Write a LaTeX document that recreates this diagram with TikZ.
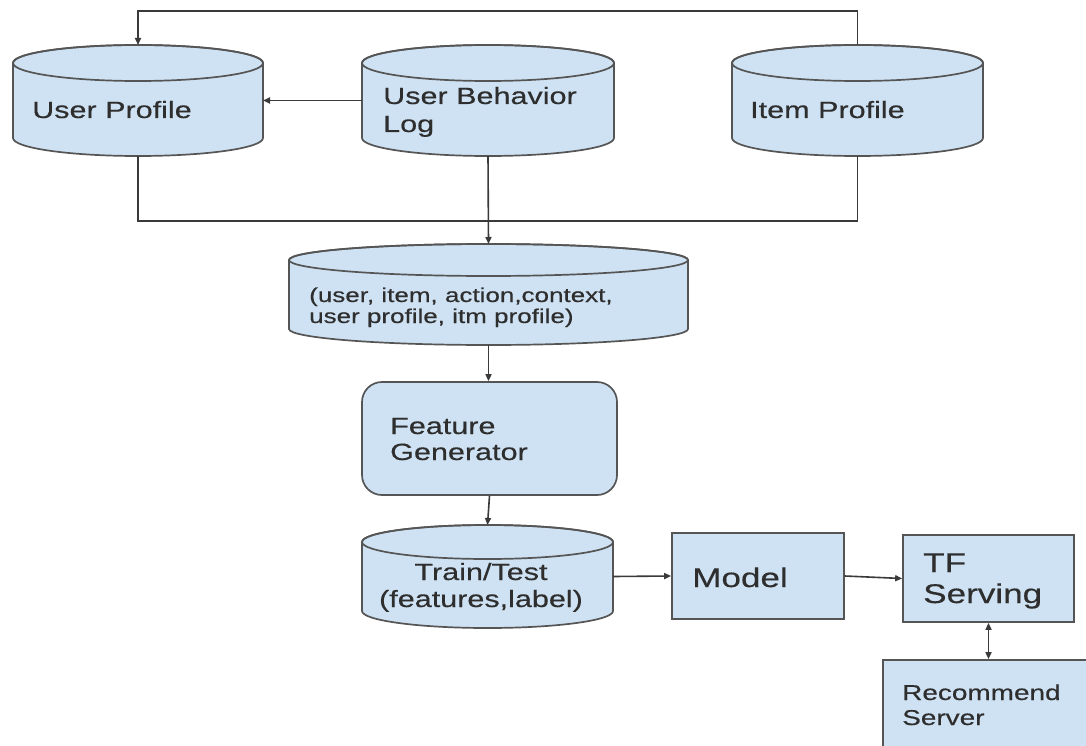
\documentclass[tikz,border=0pt]{standalone}
\usepackage{fontspec}
\setmainfont{Liberation Sans}[FakeStretch=1.3, FakeBold=0.4]
\usetikzlibrary{arrows.meta}

\definecolor{boxfill}{HTML}{CFE2F3}
\definecolor{boxedge}{HTML}{555555}
\definecolor{wirecol}{HTML}{3A3A3A}
\definecolor{ink}{HTML}{2E2E2E}

\tikzset{
  shapebox/.style={draw=boxedge, fill=boxfill, line width=1.7pt, inner sep=0pt},
  dbarea/.style={draw=none, inner sep=0pt, outer sep=0pt},
  wire/.style={draw=wirecol, line width=1.6pt},
  arr/.style={wire, -{Triangle[length=7pt,width=6pt]}},
  darr/.style={wire, {Triangle[length=7pt,width=6pt]}-{Triangle[length=7pt,width=6pt]}},
  lbl/.style={text=ink, inner sep=0pt, anchor=base west, font=\fontsize{23.5}{28}\selectfont},
}

% Database cylinder: name, left, top, right, bottom, rim half-height.
% Draws the drum and places an invisible node of the same extent for connectors.
\newcommand\dbstore[6]{%
  \pgfmathsetmacro\dbcx{(#2+#4)/2}%
  \pgfmathsetmacro\dbcy{(#3+#5)/2}%
  \pgfmathsetmacro\dbrx{(#4-#2)/2}%
  \pgfmathsetmacro\dbw{#4-#2}%
  \pgfmathsetmacro\dbh{#5-#3}%
  \filldraw[fill=boxfill, draw=boxedge, line width=1.7pt, line join=round]
    (#2,#3+#6) -- (#2,#5-#6)
    arc[start angle=180, end angle=0, x radius=\dbrx, y radius=#6]
    -- (#4,#3+#6)
    arc[start angle=0, end angle=-180, x radius=\dbrx, y radius=#6] -- cycle;
  \draw[draw=boxedge, line width=1.7pt] (\dbcx,#3+#6) ellipse [x radius=\dbrx, y radius=#6];
  \node[dbarea, minimum width=\dbw pt, minimum height=\dbh pt] (#1) at (\dbcx,\dbcy) {};
}

\begin{document}
\begin{tikzpicture}[x=1pt, y=-1pt]
  \useasboundingbox (0,0) rectangle (1086,746);
  \clip (0,0) rectangle (1086,746);
  \fill[white] (0,0) rectangle (1086,746);

  % data stores
  \dbstore{up}{13}{45}{263}{156}{18}
  \dbstore{ubl}{362}{45}{614}{156}{18}
  \dbstore{ip}{732}{45}{983}{156}{18}
  \dbstore{tup}{289}{244}{688}{345}{16}
  \dbstore{tt}{362}{525}{613}{628}{17}

  % processing boxes
  \node[shapebox, rounded corners=20pt, minimum width=255pt, minimum height=113pt] (fg) at (489.5,438.5) {};
  \node[shapebox, minimum width=172pt, minimum height=86pt] (model) at (758,576) {};
  \node[shapebox, minimum width=171pt, minimum height=87pt] (tfs) at (988.5,578.5) {};
  \node[shapebox, minimum width=212pt, minimum height=120pt] (rs) at (989,720) {};

  % labels
  \node[lbl] (up-l) at (32,118) {User Profile};
  \node[lbl] (ubl-l) at (383,104) {\begin{tabular}[t]{@{}l@{}}User Behavior\\Log\end{tabular}};
  \node[lbl] (ip-l) at (750,118) {Item Profile};
  \node[lbl, font=\fontsize{20}{21}\selectfont] (tup-l) at (309,302)
    {\begin{tabular}[t]{@{}l@{}}(user, item, action,context,\\user profile, itm profile)\end{tabular}};
  \node[lbl, font=\fontsize{23.5}{26}\selectfont] (fg-l) at (390,434)
    {\begin{tabular}[t]{@{}l@{}}Feature\\Generator\end{tabular}};
  \node[lbl, anchor=base, font=\fontsize{23.5}{27}\selectfont] (tt-l) at (481,580)
    {\begin{tabular}[t]{@{}c@{}}Train/Test\\(features,label)\end{tabular}};
  \node[lbl, font=\fontsize{27}{31}\selectfont] (model-l) at (692,587) {Model};
  \node[lbl, font=\fontsize{27}{31}\selectfont] (tfs-l) at (923,572)
    {\begin{tabular}[t]{@{}l@{}}TF\\Serving\end{tabular}};
  \node[lbl, font=\fontsize{21.5}{25}\selectfont] (rs-l) at (902,700)
    {\begin{tabular}[t]{@{}l@{}}Recommend\\Server\end{tabular}};

  % connectors
  \coordinate (join) at (487.5,221);
  \draw[arr] (ip.north) -- ++(0,-34) -| (up.north);
  \draw[wire] (up.south) |- (join) -| (ip.south);
  \draw[arr] (ubl.west) -- (up.east);
  \draw[arr] (ubl.south) -- (tup.north);
  \draw[arr] (tup.south) -- (tup.south |- fg.north);
  \draw[arr] (fg.south) -- (tt.north);
  \draw[arr] (tt.east) -- (model.west);
  \draw[arr] (model.east) -- (tfs.west);
  \draw[darr] (tfs.south) -- (tfs.south |- rs.north);
\end{tikzpicture}
\end{document}
